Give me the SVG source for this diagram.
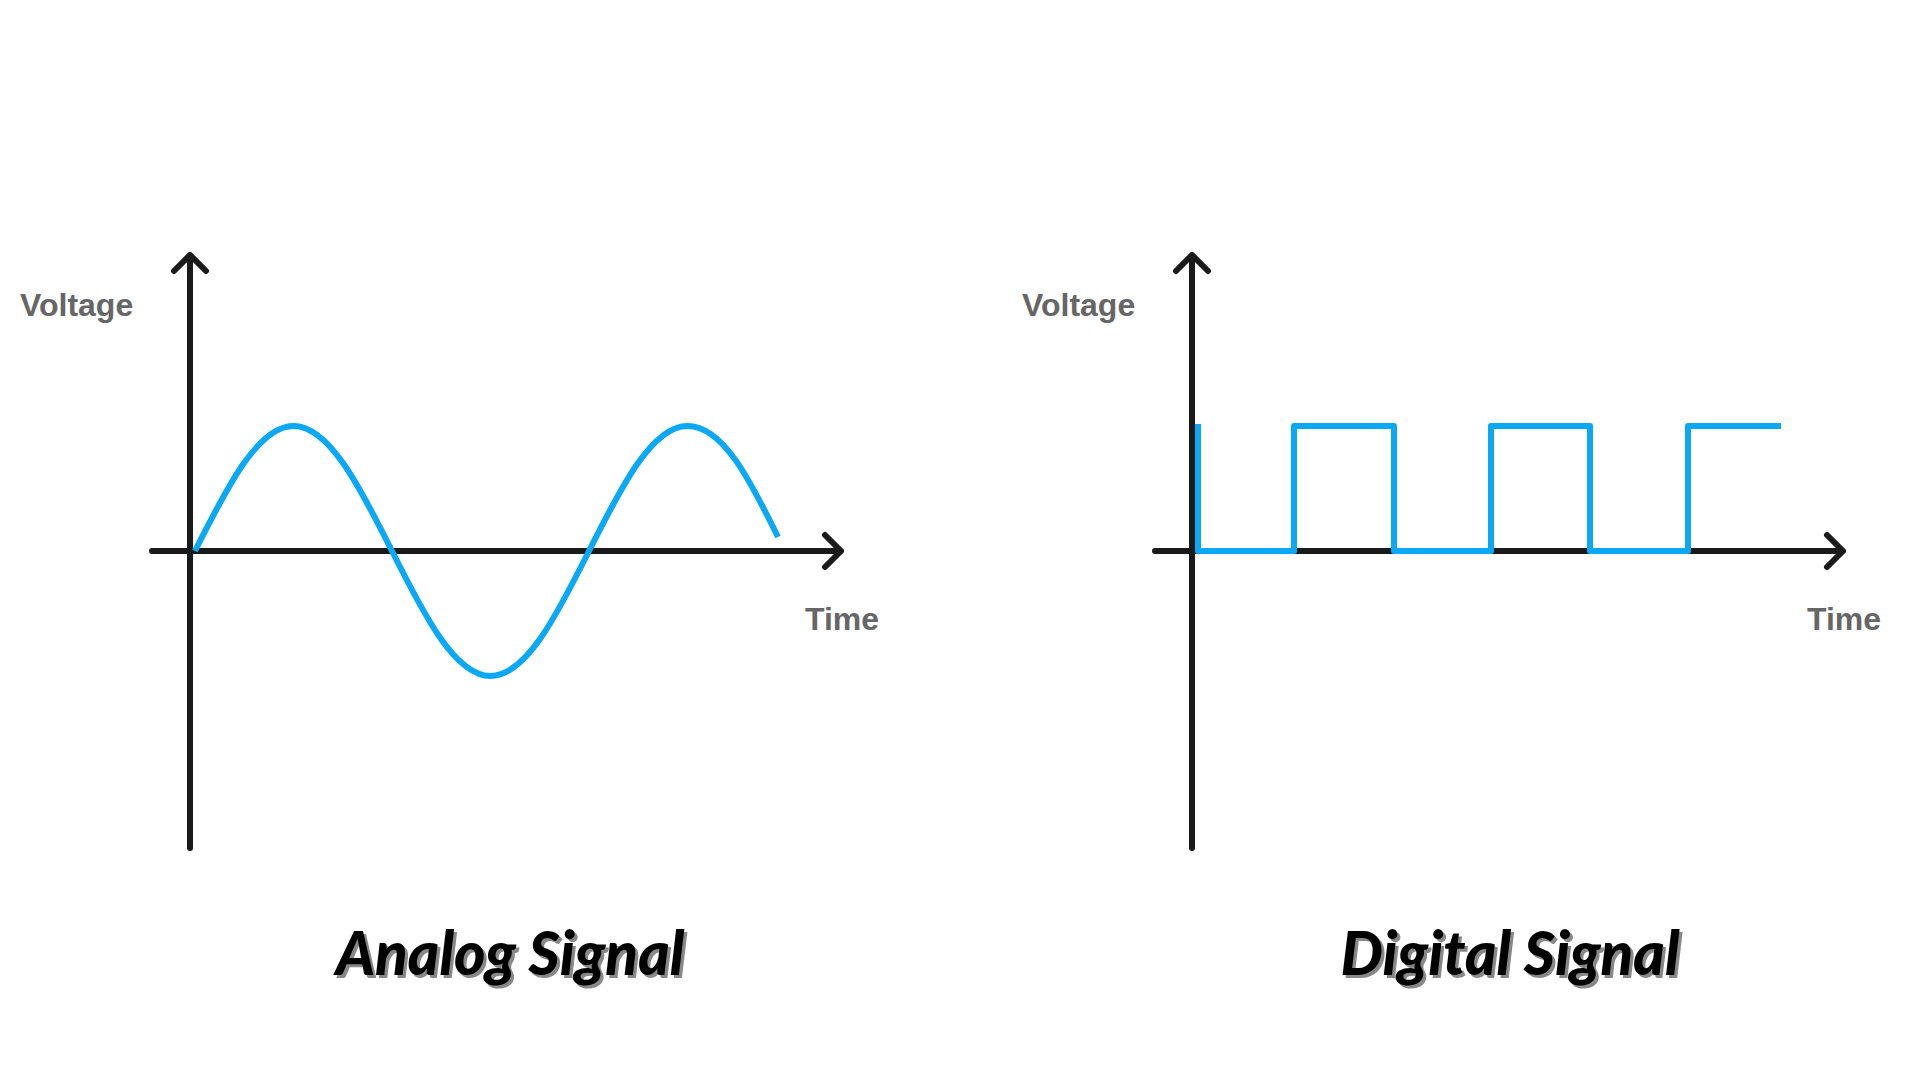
<svg xmlns="http://www.w3.org/2000/svg" width="1920" height="1080" viewBox="0 0 1920 1080">
<style>
.ax{fill:none;stroke:#1a1a1a;stroke-width:6;stroke-linecap:round;stroke-linejoin:round}
.sig{fill:none;stroke:#0aa8f5;stroke-width:6;stroke-linejoin:round}
.lbl{font-family:"Liberation Sans",Arial,sans-serif;font-weight:bold;font-size:32px;fill:#666}
.ttl{font-family:Lato,"Open Sans",sans-serif;font-style:italic;font-weight:900;font-size:60px;text-anchor:middle}
</style>
<rect width="1920" height="1080" fill="#fff"/>
<g id="analog">
<path class="ax" d="M190 848 V255 M174 271 L190 255 L206 271 M152 551 H841 M825 535 L841 551 L825 567"/>
<path class="sig" d="M195 551 C227.1 487,257.9 426,293.5 426 C329.1 426,359.9 487,392 551 C424.1 615,454.9 676,490.5 676 C526.1 676,556.9 615,589 551 C621.1 487,651.9 426,687.5 426 C723 426,750 480,778 537"/>
<text class="lbl" x="20" y="316">Voltage</text>
<text class="lbl" x="805" y="630">Time</text>
<text class="ttl" x="513" y="978" fill="#888">Analog Signal</text>
<text class="ttl" x="510" y="975" fill="#000">Analog Signal</text>
</g>
<g id="digital">
<path class="ax" d="M1192 848 V255 M1176 271 L1192 255 L1208 271 M1155 551 H1843 M1827 535 L1843 551 L1827 567"/>
<path class="sig" d="M1198 424 V551 H1294 V426 H1394 V551 H1491 V426 H1590 V551 H1688 V426 H1781"/>
<text class="lbl" x="1022" y="316">Voltage</text>
<text class="lbl" x="1807" y="630">Time</text>
<text class="ttl" x="1513" y="978" fill="#888">Digital Signal</text>
<text class="ttl" x="1510" y="975" fill="#000">Digital Signal</text>
</g>
</svg>
